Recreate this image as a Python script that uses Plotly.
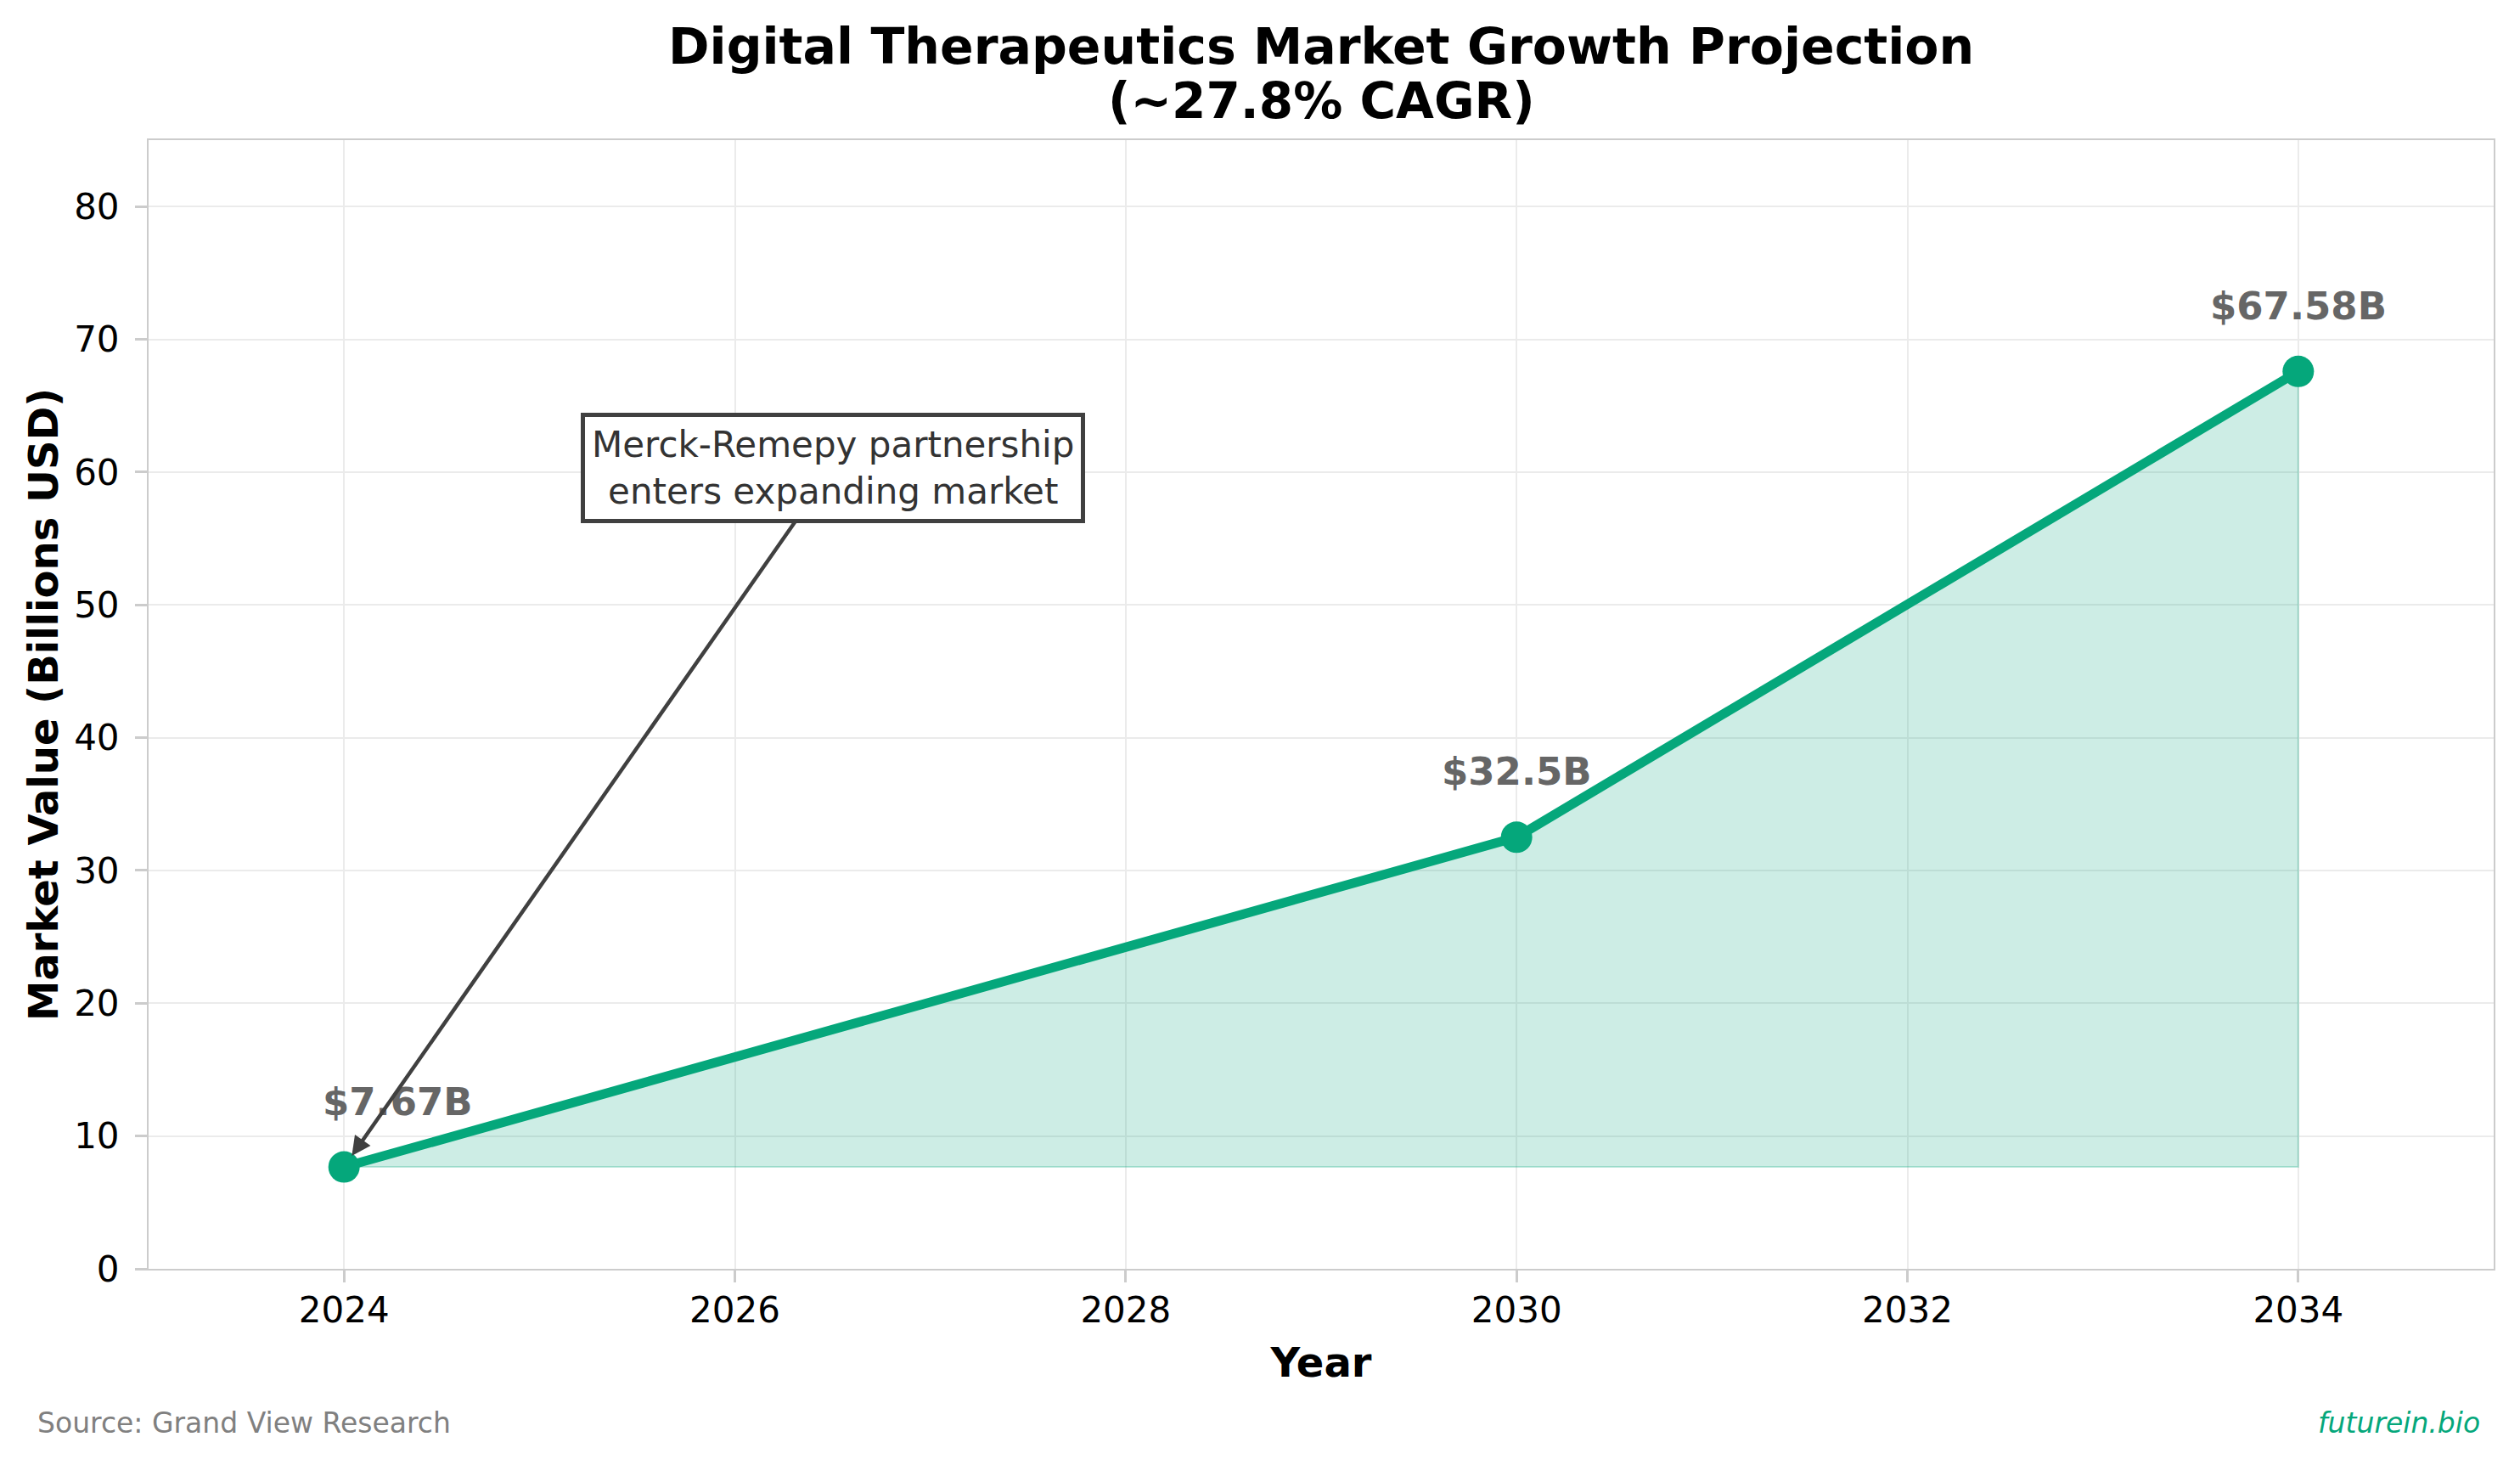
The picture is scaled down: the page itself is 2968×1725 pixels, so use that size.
import plotly.graph_objects as go

# ---- data ----
years = [2024, 2030, 2034]
values = [7.67, 32.5, 67.58]
labels = ["$7.67B", "$32.5B", "$67.58B"]
label_xshift = [63, 0, 0]
x_ticks = [2024, 2026, 2028, 2030, 2032, 2034]
y_ticks = [0, 10, 20, 30, 40, 50, 60, 70, 80]
note_text = "Merck-Remepy partnership<br>enters expanding market"
note_target = (2024, 7.67)
note_box = (2026.5, 60.3)

GREEN = "#05A77B"
FONT = "DejaVu Sans"

fig = go.Figure()

# fill between the line and the starting value
base = values[0]
fig.add_trace(go.Scatter(
    x=years + years[::-1],
    y=values + [base] * len(years),
    fill="toself",
    fillcolor="rgba(5,167,123,0.2)",
    line=dict(color="rgba(5,167,123,0.25)", width=2),
    mode="lines",
    hoverinfo="skip",
    showlegend=False,
))

fig.add_trace(go.Scatter(
    x=years, y=values,
    mode="lines+markers",
    line=dict(color=GREEN, width=11),
    marker=dict(color=GREEN, size=37),
    showlegend=False,
))

annotations = []
for x, y, t, dx in zip(years, values, labels, label_xshift):
    annotations.append(dict(
        x=x, y=y, xref="x", yref="y", text=t, showarrow=False,
        xanchor="center", yanchor="middle", yshift=77, xshift=dx,
        font=dict(family=FONT, size=45, color="#666666", weight="bold"),
    ))

annotations.append(dict(
    x=note_target[0], y=note_target[1], xref="x", yref="y",
    ax=note_box[0], ay=note_box[1], axref="x", ayref="y",
    text=note_text, showarrow=True,
    arrowhead=2, arrowsize=1.0, arrowwidth=4.5, arrowcolor="#404040",
    standoff=16,
    font=dict(family=FONT, size=42, color="#333333"),
    bgcolor="white", bordercolor="#404040", borderwidth=5, borderpad=8,
    align="center",
))

# second title line
annotations.append(dict(
    x=0.5, y=1.0346, xref="paper", yref="paper", text="<b>(~27.8% CAGR)</b>",
    showarrow=False, xanchor="center", yanchor="middle",
    font=dict(family=FONT, size=58, color="black"),
))

annotations.append(dict(
    x=-0.04815, y=-0.1362, xref="paper", yref="paper",
    text="Source: Grand View Research", showarrow=False,
    xanchor="left", yanchor="middle",
    font=dict(family=FONT, size=33, color="#808080"),
))
annotations.append(dict(
    x=0.99493, y=-0.1362, xref="paper", yref="paper",
    text="<i>futurein.bio</i>", showarrow=False,
    xanchor="right", yanchor="middle",
    font=dict(family=FONT, size=33, color=GREEN),
))

fig.update_layout(
    width=2968, height=1725,
    margin=dict(l=175, r=31, t=165, b=231, autoexpand=False),
    paper_bgcolor="white", plot_bgcolor="white",
    title=dict(text="<b>Digital Therapeutics Market Growth Projection</b>",
               x=0.5243, xanchor="center", y=1 - 55 / 1725, yanchor="middle",
               yref="container",
               font=dict(family=FONT, size=58.5, color="black")),
    annotations=annotations,
    font=dict(family=FONT),
)

axis_common = dict(
    showline=True, linecolor="#cccccc", linewidth=2, mirror=True,
    showgrid=True, gridcolor="#ebebeb", gridwidth=1.5,
    ticks="outside", ticklen=14, tickwidth=2.5, tickcolor="#cccccc",
    tickfont=dict(family=FONT, size=42, color="black"),
    zeroline=False,
)

fig.update_xaxes(
    range=[2023, 2035], tickvals=x_ticks, ticktext=[str(v) for v in x_ticks],
    title=dict(text="<b>Year</b>", font=dict(family=FONT, size=48, color="black"), standoff=21),
    ticklabelstandoff=-3,
    **axis_common,
)
fig.update_yaxes(
    range=[0, 85], tickvals=y_ticks,
    title=dict(text="<b>Market Value (Billions USD)</b>", font=dict(family=FONT, size=48, color="black"), standoff=3),
    ticklabelstandoff=10,
    **axis_common,
)

fig.write_html("out.html")
